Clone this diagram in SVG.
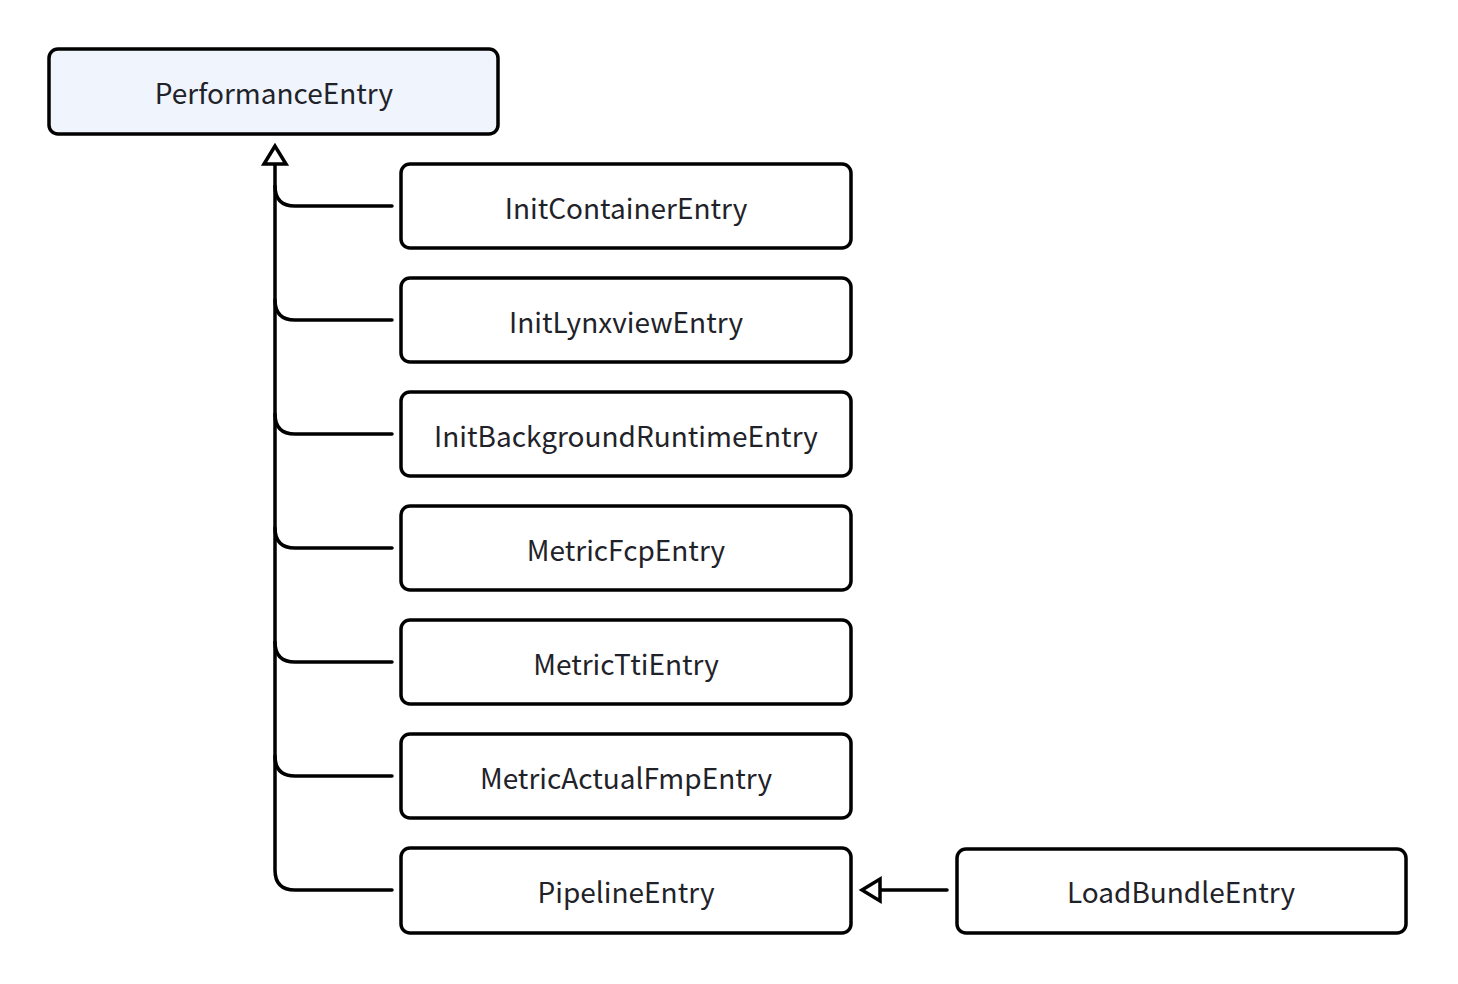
<svg xmlns="http://www.w3.org/2000/svg" width="1458" height="984" viewBox="0 0 1458 984">
<defs>
<style>
.box{fill:#fff;stroke:#000;stroke-width:3.5}
.root{fill:#EFF4FD}
.t{font-family:"Noto Sans CJK SC","Noto Sans",sans-serif;font-size:28px;fill:#1f2329;text-anchor:middle;dominant-baseline:central}
.c{fill:none;stroke:#000;stroke-width:3.5;stroke-linecap:round}
.ah{fill:#fff;stroke:#000;stroke-width:3.5;stroke-linejoin:miter}
</style>
</defs>
<rect width="1458" height="984" fill="#fff"/>
<g id="connectors">
<path class="c" d="M275 163 V870 Q275 890 295 890 H392"/>
<path class="c" d="M275 186 Q275 206 295 206 H392"/>
<path class="c" d="M275 300 Q275 320 295 320 H392"/>
<path class="c" d="M275 414 Q275 434 295 434 H392"/>
<path class="c" d="M275 528 Q275 548 295 548 H392"/>
<path class="c" d="M275 642 Q275 662 295 662 H392"/>
<path class="c" d="M275 756 Q275 776 295 776 H392"/>
<polygon class="ah" points="275,146 264,164 286,164"/>
<path class="c" d="M947 890 H880"/>
<polygon class="ah" points="862,890 880,879 880,901"/>
</g>
<g id="PerformanceEntry"><rect class="box root" x="49" y="49" width="449" height="85" rx="9"/><text class="t" x="274" y="92">PerformanceEntry</text></g>
<g id="InitContainerEntry"><rect class="box" x="401" y="164" width="450" height="84" rx="9"/><text class="t" x="626" y="207">InitContainerEntry</text></g>
<g id="InitLynxviewEntry"><rect class="box" x="401" y="278" width="450" height="84" rx="9"/><text class="t" x="626" y="321">InitLynxviewEntry</text></g>
<g id="InitBackgroundRuntimeEntry"><rect class="box" x="401" y="392" width="450" height="84" rx="9"/><text class="t" x="626" y="435">InitBackgroundRuntimeEntry</text></g>
<g id="MetricFcpEntry"><rect class="box" x="401" y="506" width="450" height="84" rx="9"/><text class="t" x="626" y="549">MetricFcpEntry</text></g>
<g id="MetricTtiEntry"><rect class="box" x="401" y="620" width="450" height="84" rx="9"/><text class="t" x="626" y="663">MetricTtiEntry</text></g>
<g id="MetricActualFmpEntry"><rect class="box" x="401" y="734" width="450" height="84" rx="9"/><text class="t" x="626" y="777">MetricActualFmpEntry</text></g>
<g id="PipelineEntry"><rect class="box" x="401" y="848" width="450" height="85" rx="9"/><text class="t" x="626" y="891">PipelineEntry</text></g>
<g id="LoadBundleEntry"><rect class="box" x="957" y="849" width="449" height="84" rx="9"/><text class="t" x="1181" y="891">LoadBundleEntry</text></g>
</svg>
